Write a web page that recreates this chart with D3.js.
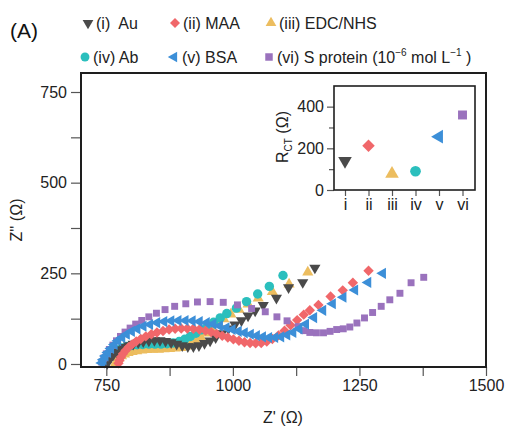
<!DOCTYPE html>
<html><head><meta charset="utf-8">
<script src="https://cdn.jsdelivr.net/npm/d3@7"></script>
<style>
html,body{margin:0;padding:0;background:#fff;}
svg{display:block;font-family:"Liberation Sans",Arial,sans-serif;}
</style></head>
<body><svg id="c" width="507" height="427"></svg>
<script>
// ---- data ----
const seriesNames = ["(i)  Au","(ii) MAA","(iii) EDC/NHS","(iv) Ab","(v) BSA","(vi) S protein"];
const seriesColors = ["#4a4a4a","#f0676a","#ecbd5f","#2bbfbd","#3c8fd8","#9a72bd"];
const auZ = [[752,2],[755,10],[759,18],[764,26],[770,33],[777,40],[785,46],[794,51],[803,55],[813,59],[823,62],[834,64],[845,65],[856,65],[867,63],[878,59],[889,55],[900,51],[911,48],[922,48],[933,51],[944,57],[955,64],[966,73],[978,84],[991,97],[1004,108],[1017,120],[1030,133],[1044,147],[1060,162],[1086,182],[1110,211],[1138,225],[1162,265]];
const maaZ = [[774,2],[776,10],[779,19],[783,28],[788,37],[794,46],[801,54],[809,62],[818,69],[828,76],[839,82],[850,87],[862,91],[874,95],[886,97],[898,98],[910,98],[922,97],[934,95],[946,92],[957,88],[968,83],[979,78],[990,73],[1001,68],[1012,64],[1023,60],[1034,58],[1045,57],[1056,58],[1067,62],[1078,69],[1090,79],[1102,92],[1114,107],[1127,121],[1140,136],[1152,148],[1169,163],[1193,186],[1217,203],[1237,224],[1268,257]];
const edcZ = [[768,2],[771,9],[775,16],[780,22],[786,27],[793,31],[801,34],[810,36],[820,38],[831,39],[842,40],[853,40],[864,41],[875,42],[886,43],[897,45],[907,49],[917,55],[927,63],[937,73],[947,85],[958,98],[970,112],[982,124],[996,137],[1012,150],[1030,165],[1050,181],[1078,199],[1111,220],[1148,253]];
const abZ = [[748,2],[751,10],[755,18],[760,26],[766,33],[773,39],[781,44],[790,48],[800,51],[811,53],[822,54],[834,55],[846,55],[858,55],[870,56],[882,58],[894,62],[905,68],[916,76],[927,85],[938,94],[950,104],[962,115],[975,127],[988,139],[1007,154],[1027,172],[1049,193],[1072,214],[1099,244]];
const bsaZ = [[741,3],[744,12],[748,22],[753,32],[759,43],[766,54],[773,64],[781,73],[790,82],[800,90],[811,97],[823,104],[836,109],[850,114],[864,117],[878,119],[892,120],[906,120],[920,119],[934,117],[948,114],[961,110],[974,105],[987,100],[999,95],[1011,90],[1023,86],[1035,82],[1047,78],[1059,75],[1071,73],[1083,73],[1095,75],[1107,80],[1119,87],[1131,97],[1144,110],[1160,128],[1178,148],[1197,166],[1218,184],[1241,204],[1267,225],[1296,250]];
const sZ = [[741,5],[745,16],[750,28],[756,40],[763,52],[770,64],[778,76],[787,88],[797,99],[808,110],[820,120],[834,130],[849,140],[866,150],[885,159],[907,166],[930,171],[955,172],[981,170],[1009,163],[1037,153],[1064,144],[1087,130],[1107,119],[1129,103],[1140,92],[1152,87],[1165,86],[1179,86],[1192,90],[1205,95],[1218,97],[1231,102],[1245,113],[1260,127],[1276,142],[1293,159],[1310,177],[1330,195],[1352,224],[1377,239]];
const rctCategories = ["i","ii","iii","iv","v","vi"];
const rctValues = [140,212,78,90,256,360];
const xTicks = [750,1000,1250,1500];
const xMinor = [875,1125,1375];
const yTicks = [0,250,500,750];
const yMinor = [125,375,625];
const insetTicks = [0,200,400];
const insetMinor = [100,300];

// ---- drawing ----
const svg = d3.select("#c");
const ink = "#1e1e1e";
const symDefs = [
  {t:d3.symbolTriangle, rot:180, s:54},
  {t:d3.symbolSquare, rot:45, s:54},
  {t:d3.symbolTriangle, rot:0, s:54},
  {t:d3.symbolCircle, rot:0, s:70},
  {t:d3.symbolTriangle, rot:-90, s:54},
  {t:d3.symbolSquare, rot:0, s:48}
];
const allData = [auZ,maaZ,edcZ,abZ,bsaZ,sZ];

const x = d3.scaleLinear().domain([700,1500]).range([81,486]);
const y = d3.scaleLinear().domain([-8.3,802.4]).range([367,73]);

// axes
svg.append("g").attr("transform","translate(0,367)")
  .call(d3.axisBottom(x).tickValues(xTicks).tickSize(9).tickPadding(4).tickFormat(d3.format("d")));
svg.append("g").attr("transform","translate(0,367)")
  .call(d3.axisBottom(x).tickValues(xMinor).tickSize(9).tickFormat(""));
svg.append("g").attr("transform","translate(81,0)")
  .call(d3.axisLeft(y).tickValues(yTicks).tickSize(10).tickPadding(4).tickFormat(d3.format("d")));
svg.append("g").attr("transform","translate(81,0)")
  .call(d3.axisLeft(y).tickValues(yMinor).tickSize(10).tickFormat(""));
svg.selectAll(".domain").remove();
svg.selectAll(".tick line").attr("stroke","#555").attr("stroke-width",1.2);
svg.selectAll(".tick text").attr("font-size",16).attr("fill","#222").attr("font-family","Liberation Sans, Arial, sans-serif");

// data points (draw order)
const order = [2,3,0,1,5,4];
order.forEach(i=>{
  const sd = symDefs[i];
  svg.append("g").selectAll("path").data(allData[i]).join("path")
    .attr("d", d3.symbol().type(sd.t).size(sd.s))
    .attr("transform", d=>`translate(${x(d[0])},${y(d[1])}) rotate(${sd.rot})`)
    .attr("fill", seriesColors[i]);
});

// main frame
svg.append("rect").attr("x",81).attr("y",73).attr("width",405).attr("height",294)
  .attr("fill","none").attr("stroke",ink).attr("stroke-width",2);

// axis titles
svg.append("text").attr("x",283).attr("y",423).attr("text-anchor","middle")
  .attr("font-size",16).attr("fill","#222").text("Z' (\u03A9)");
svg.append("text").attr("transform","translate(22,220) rotate(-90)").attr("text-anchor","middle")
  .attr("font-size",16).attr("fill","#222").text("Z'' (\u03A9)");

// inset
const ix = d3.scalePoint().domain(rctCategories).range([345,462.5]);
const iy = d3.scaleLinear().domain([0,500]).range([190,85.8]);
svg.append("rect").attr("x",334).attr("y",86).attr("width",141).attr("height",104).attr("fill","#fff");
svg.append("g").attr("transform","translate(0,190)")
  .call(d3.axisBottom(ix).tickSize(6).tickPadding(3))
  .call(g=>g.select(".domain").remove());
svg.append("g").attr("transform","translate(334,0)")
  .call(d3.axisLeft(iy).tickValues(insetTicks).tickSize(7).tickPadding(3))
  .call(g=>g.select(".domain").remove());
svg.append("g").attr("transform","translate(334,0)")
  .call(d3.axisLeft(iy).tickValues(insetMinor).tickSize(5).tickFormat(""))
  .call(g=>g.select(".domain").remove());
svg.selectAll(".tick line").attr("stroke","#555").attr("stroke-width",1.2);
svg.selectAll(".tick text").attr("font-size",16).attr("fill","#222").attr("font-family","Liberation Sans, Arial, sans-serif");
const insetSizes = [80,78,80,90,80,80];
rctValues.forEach((v,i)=>{
  const sd = symDefs[i];
  svg.append("path").attr("d", d3.symbol().type(sd.t).size(insetSizes[i]))
    .attr("transform", `translate(${ix(rctCategories[i])},${iy(v)}) rotate(${sd.rot})`)
    .attr("fill", seriesColors[i]);
});
svg.append("rect").attr("x",334).attr("y",86).attr("width",141).attr("height",104)
  .attr("fill","none").attr("stroke",ink).attr("stroke-width",1.6);
const rl = svg.append("text").attr("transform","translate(288,137) rotate(-90)").attr("text-anchor","middle")
  .attr("font-size",16).attr("fill","#222");
rl.append("tspan").text("R");
rl.append("tspan").attr("font-size",10).attr("dy",4).text("CT");
rl.append("tspan").attr("dy",-4).text(" (\u03A9)");

// panel label
svg.append("text").attr("x",10).attr("y",38).attr("font-size",21).attr("fill","#111").text("(A)");

// legend
const legendPos = [[88,23],[175,23],[271,23],[85,57],[174,57],[269,57]];
legendPos.forEach((p,i)=>{
  const sd = symDefs[i];
  svg.append("path").attr("d", d3.symbol().type(sd.t).size(i===3?62:(i===5?56:50)))
    .attr("transform", `translate(${p[0]},${p[1]}) rotate(${sd.rot})`)
    .attr("fill", seriesColors[i]);
  const t = svg.append("text").attr("x",p[0]+8).attr("y",p[1]+6).attr("font-size",16).attr("fill","#222")
    .attr("xml:space","preserve").style("white-space","pre");
  if(i<5){ t.text(seriesNames[i]); }
  else {
    t.append("tspan").text(seriesNames[i]+" (10");
    t.append("tspan").attr("font-size",10).attr("dy",-7).text("\u22126");
    t.append("tspan").attr("dy",7).text(" mol L");
    t.append("tspan").attr("font-size",10).attr("dy",-7).text("\u22121");
    t.append("tspan").attr("dy",7).text(" )");
  }
});
</script></body></html>
